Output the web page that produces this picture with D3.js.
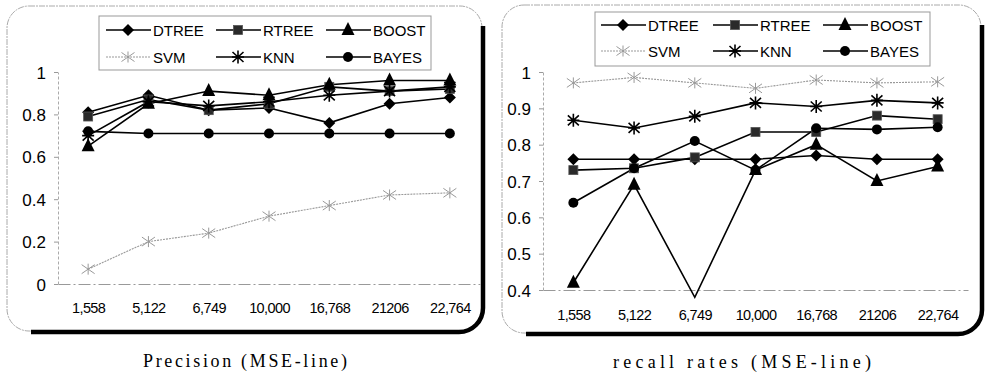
<!DOCTYPE html>
<html>
<head>
<meta charset="utf-8">
<script src="https://cdn.jsdelivr.net/npm/d3@7"></script>
<style>
  body { margin: 0; background: #fff; }
  svg { display: block; }
  .tick-label { font-family: "Liberation Sans", Arial, sans-serif; fill: #000; }
  .legend-text { font-family: "Liberation Sans", Arial, sans-serif; font-size: 15px; fill: #000; }
  .caption { font-family: "Liberation Serif", "Times New Roman", serif; font-size: 18px; fill: #000; }
</style>
</head>
<body>
<div id="chart"></div>
<script>
// x categories (dataset sizes)
const categories = ["1,558", "5,122", "6,749", "10,000", "16,768", "21206", "22,764"];

// Precision (MSE-line)
const precDTREE = [0.81, 0.89, 0.82, 0.83, 0.76, 0.85, 0.88];
const precRTREE = [0.79, 0.87, 0.82, 0.85, 0.93, 0.91, 0.92];
const precBOOST = [0.65, 0.85, 0.91, 0.89, 0.94, 0.96, 0.96];
const precSVM = [0.07, 0.20, 0.24, 0.32, 0.37, 0.42, 0.43];
const precKNN = [0.70, 0.86, 0.84, 0.86, 0.89, 0.91, 0.93];
const precBAYES = [0.72, 0.71, 0.71, 0.71, 0.71, 0.71, 0.71];
const precTicks = [0, 0.2, 0.4, 0.6, 0.8, 1];

// recall rates (MSE-line)
const recDTREE = [0.76, 0.76, 0.76, 0.76, 0.77, 0.76, 0.76];
const recRTREE = [0.73, 0.735, 0.765, 0.835, 0.835, 0.88, 0.87];
const recBOOST = [0.42, 0.69, 0.38, 0.73, 0.80, 0.70, 0.74];
const recSVM = [0.97, 0.985, 0.97, 0.955, 0.978, 0.97, 0.973];
const recKNN = [0.867, 0.846, 0.878, 0.915, 0.905, 0.922, 0.915];
const recBAYES = [0.64, 0.735, 0.81, 0.73, 0.845, 0.842, 0.848];
const recTicks = [0.4, 0.5, 0.6, 0.7, 0.8, 0.9, 1];

const seriesNames = ["DTREE", "RTREE", "BOOST", "SVM", "KNN", "BAYES"];
const seriesMarks = ["diamond", "square", "triangle", "svmstar", "star", "circle"];

const svg = d3.select("#chart").append("svg")
  .attr("width", 988)
  .attr("height", 376);

// draws one marker at the origin of group g
function drawMarker(g, type) {
  if (type === "diamond") {
    g.append("path").attr("d", "M0,-6L6,0L0,6L-6,0Z").attr("fill", "#000");
  } else if (type === "square") {
    g.append("rect").attr("x", -4.5).attr("y", -4.5).attr("width", 9).attr("height", 9)
      .attr("fill", "#2a2a2a").attr("stroke", "#555").attr("stroke-width", 0.8);
  } else if (type === "triangle") {
    g.append("path").attr("d", "M0,-8L6.5,5L-6.5,5Z").attr("fill", "#000");
  } else if (type === "circle") {
    g.append("circle").attr("r", 5).attr("fill", "#000");
  } else if (type === "star") {
    g.append("path")
      .attr("d", "M0,-6.5V6.5M-5.5,-5L5.5,5M-5.5,5L5.5,-5M-6,0H6")
      .attr("stroke", "#000").attr("stroke-width", 1.6).attr("fill", "none");
  } else if (type === "svmstar") {
    g.append("path")
      .attr("d", "M0,-5.5V5.5M-6.5,-4.5L6.5,4.5M-6.5,4.5L6.5,-4.5")
      .attr("stroke", "#999").attr("stroke-width", 1).attr("fill", "none");
  }
}

function drawFrame(f) {
  svg.append("rect")
    .attr("x", f.x).attr("y", f.y)
    .attr("width", f.w).attr("height", f.h)
    .attr("rx", 22)
    .attr("fill", "none")
    .attr("stroke", "#aaa")
    .attr("stroke-dasharray", "6,1,2,1");
  // heavy shadow on the right and bottom edges
  const r = 24, x1 = f.x + f.w + 1, y1 = f.y + f.h + 1;
  svg.append("path")
    .attr("d", `M${x1},${f.y + 20}V${y1 - r}A${r},${r} 0 0 1 ${x1 - r},${y1}H${f.x + 24}`)
    .attr("fill", "none")
    .attr("stroke", "#000")
    .attr("stroke-width", 4.5);
}

function drawPanel(p) {
  drawFrame(p.frame);

  const x = d3.scalePoint().domain(categories).range([p.x0, p.x1]).padding(0.5);
  const y = d3.scaleLinear().domain(p.domain).range([p.yBottom, p.yTop]);

  // y axis
  const yAxis = d3.axisLeft(y).tickValues(p.ticks).tickSize(4).tickSizeOuter(0)
    .tickFormat((d) => d3.format("~g")(d));
  const gy = svg.append("g")
    .attr("transform", `translate(${p.x0},0)`)
    .call(yAxis);
  gy.select(".domain").attr("stroke", "#aaa").attr("stroke-dasharray", "3,2");
  gy.selectAll(".tick line").attr("stroke", "#999");
  gy.selectAll(".tick text")
    .attr("class", "tick-label")
    .attr("x", p.yLabelX - p.x0)
    .attr("dy", "0.36em")
    .style("font-size", "17px");

  // x axis
  const xAxis = d3.axisBottom(x).tickSize(0).tickSizeOuter(0);
  const gx = svg.append("g")
    .attr("transform", `translate(0,${p.yBottom})`)
    .call(xAxis);
  gx.select(".domain").attr("stroke", "#999").attr("stroke-dasharray", "12,3,2,3");
  gx.selectAll(".tick text")
    .attr("class", "tick-label")
    .attr("y", p.xLabelDy)
    .attr("dy", 0)
    .style("font-size", "14.5px")
    .style("letter-spacing", "-0.6px");

  // series lines
  const line = d3.line().x((d, i) => x(categories[i])).y((d) => y(d));
  p.series.forEach((vals, k) => {
    const isSvm = seriesNames[k] === "SVM";
    svg.append("path")
      .datum(vals)
      .attr("d", line)
      .attr("fill", "none")
      .attr("stroke", isSvm ? "#999" : "#000")
      .attr("stroke-width", isSvm ? 1.1 : 1.6)
      .attr("stroke-dasharray", isSvm ? "2,1" : null);
  });
  // markers on top (values below the axis floor are clipped, as in the original)
  p.series.forEach((vals, k) => {
    vals.forEach((v, i) => {
      if (v < p.domain[0]) return;
      const g = svg.append("g")
        .attr("transform", `translate(${x(categories[i])},${y(v)})`);
      drawMarker(g, seriesMarks[k]);
    });
  });

  // legend
  const L = p.legend;
  svg.append("rect")
    .attr("x", L.x).attr("y", L.y).attr("width", L.w).attr("height", L.h)
    .attr("fill", "#fff").attr("stroke", "#999");
  seriesNames.forEach((name, k) => {
    const col = k % 3, row = Math.floor(k / 3);
    const lx = L.cols[col], ly = L.rows[row];
    const isSvm = name === "SVM";
    svg.append("line")
      .attr("x1", lx).attr("x2", lx + 45)
      .attr("y1", ly).attr("y2", ly)
      .attr("stroke", isSvm ? "#999" : "#000")
      .attr("stroke-width", isSvm ? 1.1 : 1.6)
      .attr("stroke-dasharray", isSvm ? "2,1" : null);
    const g = svg.append("g").attr("transform", `translate(${lx + 22},${ly})`);
    drawMarker(g, seriesMarks[k]);
    svg.append("text")
      .attr("class", "legend-text")
      .attr("x", lx + 47)
      .attr("y", ly + 5.5)
      .text(name);
  });

  // caption
  svg.append("text")
    .attr("class", "caption")
    .attr("x", p.caption.x)
    .attr("y", p.caption.y)
    .attr("textLength", p.caption.w)
    .attr("lengthAdjust", "spacing")
    .text(p.caption.text);
}

drawPanel({
  frame: { x: 7, y: 6, w: 475, h: 325 },
  x0: 58, x1: 480, yTop: 72, yBottom: 284,
  domain: [0, 1], ticks: precTicks,
  yLabelX: 46, xLabelDy: 29,
  series: [precDTREE, precRTREE, precBOOST, precSVM, precKNN, precBAYES],
  legend: { x: 99, y: 16, w: 332, h: 54, cols: [106, 216, 326], rows: [30, 57] },
  caption: { x: 143, y: 367, w: 204, text: "Precision (MSE-line)" },
});

drawPanel({
  frame: { x: 502, y: 5, w: 479, h: 328 },
  x0: 543, x1: 968, yTop: 72, yBottom: 290,
  domain: [0.4, 1], ticks: recTicks,
  yLabelX: 531, xLabelDy: 30,
  series: [recDTREE, recRTREE, recBOOST, recSVM, recKNN, recBAYES],
  legend: { x: 595, y: 12, w: 335, h: 54, cols: [601, 713, 823], rows: [25, 51] },
  caption: { x: 613, y: 368, w: 258, text: "recall rates (MSE-line)" },
});
</script>
</body>
</html>
